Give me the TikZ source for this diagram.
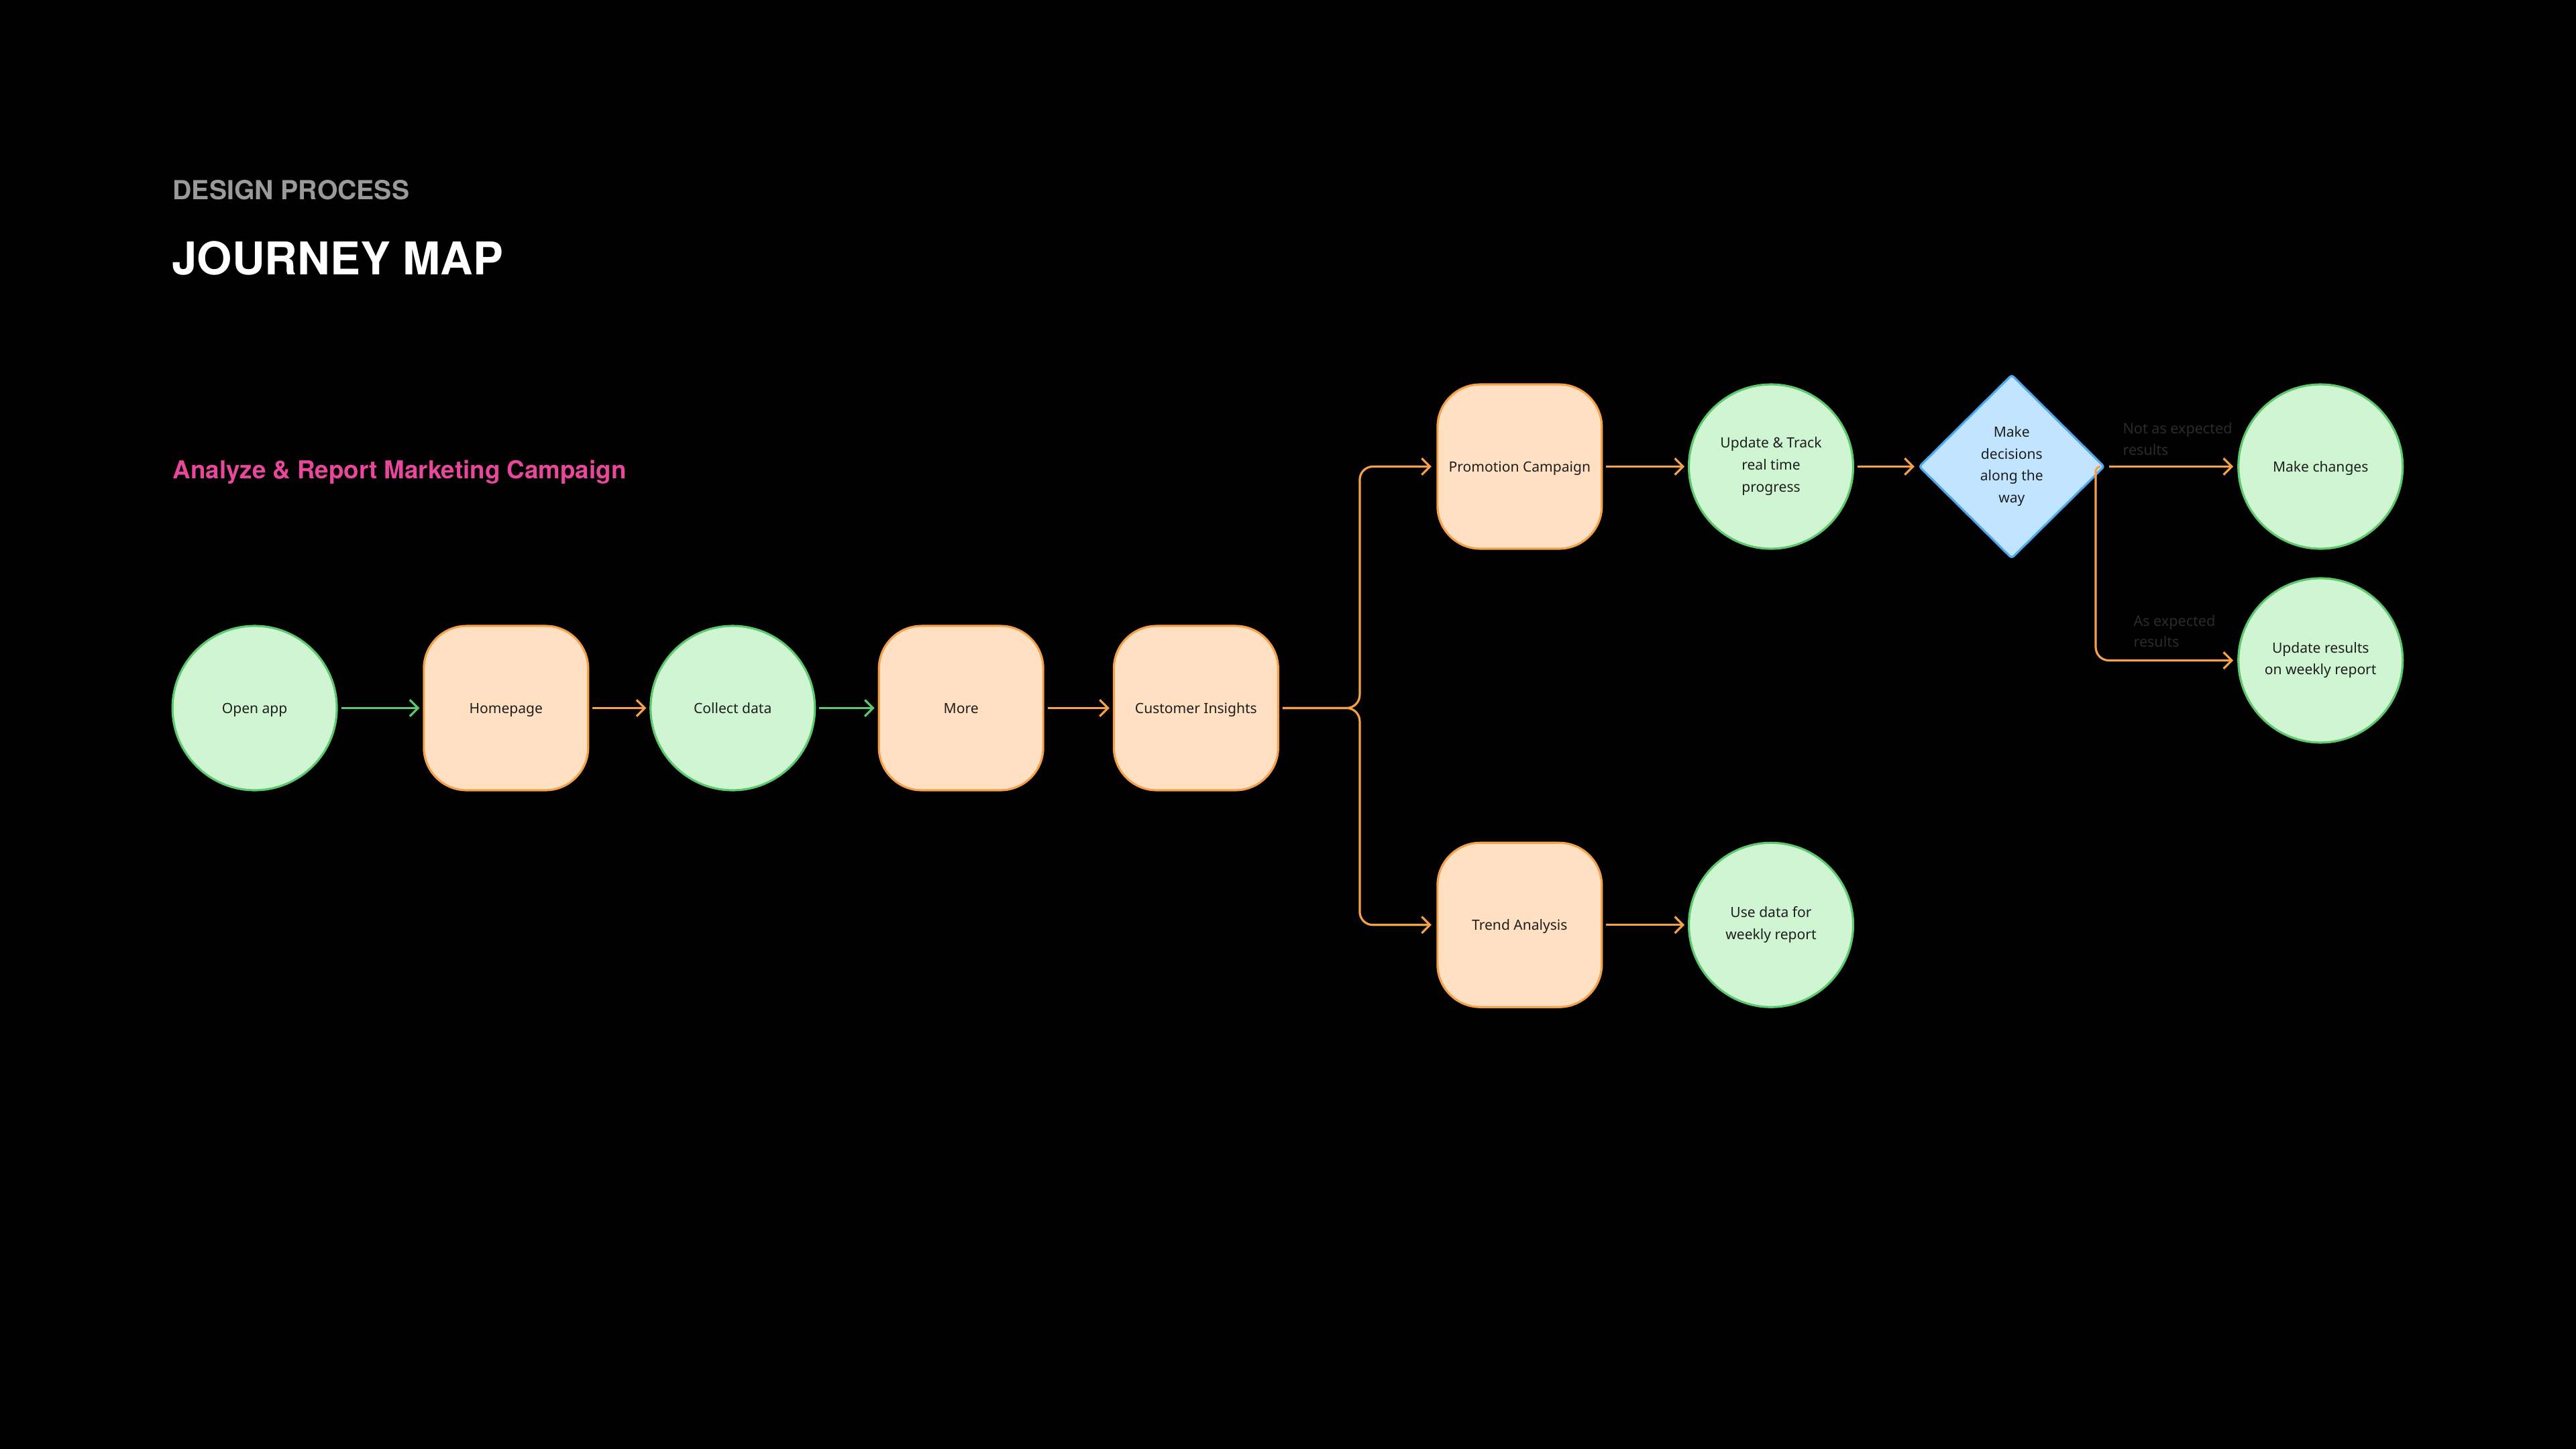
\documentclass[tikz,border=0pt]{standalone}
\usepackage{fontspec}
\setmainfont{Noto Sans}
\newfontfamily\titlefont{texgyreheros-bold.otf}
\usetikzlibrary{arrows.meta,shapes.geometric,calc}
\definecolor{gfill}{HTML}{CFF5D3}
\definecolor{gstroke}{HTML}{5DC96D}
\definecolor{ofill}{HTML}{FFE0C2}
\definecolor{ostroke}{HTML}{F4A14A}
\definecolor{bfill}{HTML}{C2E5FF}
\definecolor{bstroke}{HTML}{4DA9EF}
\definecolor{pinkc}{HTML}{E8479B}
\definecolor{grayc}{HTML}{9A9A9A}
\definecolor{txtc}{HTML}{1E1E1E}
\definecolor{lblc}{HTML}{2B2B2B}
\tikzset{
  nodefont/.style={font=\fontsize{8.6}{13.3}\selectfont, text=txtc, align=center,
    execute at begin node={\rule{0pt}{8.6pt}},
    execute at end node={\rule[-2.4pt]{0pt}{0pt}}},
  mline/.style={execute at begin node={\rule{0pt}{11.6pt}}},
  gnode/.style={circle, draw=gstroke, fill=gfill, line width=1.3pt, minimum size=100pt, inner sep=0pt, nodefont},
  onode/.style={rectangle, rounded corners=26pt, draw=ostroke, fill=ofill, line width=1.3pt, minimum width=100pt, minimum height=100pt, inner sep=0pt, nodefont},
  dnode/.style={diamond, aspect=1, draw=bstroke, fill=bfill, line width=1.3pt, minimum width=113pt, minimum height=112pt, inner sep=0pt, rounded corners=1.5pt, nodefont},
  tip/.style={-{Straight Barb[length=5pt,width=10pt]}},
  garrow/.style={tip, draw=gstroke, line width=1.3pt, shorten <=2pt, shorten >=2pt},
  oarrow/.style={tip, draw=ostroke, line width=1.3pt, shorten <=2pt, shorten >=2pt},
  lbl/.style={font=\fontsize{8.8}{13}\selectfont, text=lblc, align=left, anchor=base west, inner sep=0pt},
  title/.style={anchor=base west, inner sep=0pt},
}
\begin{document}
\begin{tikzpicture}[x=1pt,y=-1pt]
\fill[black] (0,0) rectangle (1568,882);
\useasboundingbox (0,0) rectangle (1568,882);

% titles
\node[title, text=grayc, font=\titlefont\fontsize{16}{16}\selectfont] (t1) at (105,121.3) {DESIGN PROCESS};
\node[title, text=white, font=\titlefont\fontsize{27.5}{27.5}\selectfont] (t2) at (104.5,167.4) {JOURNEY MAP};
\node[title, text=pinkc, font=\titlefont\fontsize{15}{15}\selectfont] (t3) at (105,291.5) {Analyze \& Report Marketing Campaign};

% main row
\node[gnode] (open) at (155,431) {Open app};
\node[onode] (home) at (308,431) {Homepage};
\node[gnode] (coll) at (446,431) {Collect data};
\node[onode] (more) at (585,431) {More};
\node[onode] (ci) at (728,431) {Customer Insights};

% branches
\node[onode] (promo) at (925,284) {Promotion Campaign};
\node[onode] (trend) at (925,563) {Trend Analysis};
\node[gnode, mline] (upd) at (1078,284) {Update \& Track\\real time\\progress};
\node[gnode, mline] (use) at (1078,563) {Use data for\\weekly report};
\node[dnode, mline] (dec) at (1224.5,284) {Make\\decisions\\along the\\way};
\node[gnode] (mc) at (1412.5,284) {Make changes};
\node[gnode, mline] (ur) at (1412.5,402) {Update results\\on weekly report};

% labels (base = last line)
\node[lbl] (l1) at (1292,277) {Not as expected\\results};
\node[lbl] (l2) at (1298.5,394) {As expected\\results};

% connectors
\draw[garrow] (open) -- (home);
\draw[oarrow] (home) -- (coll);
\draw[garrow] (coll) -- (more);
\draw[oarrow] (more) -- (ci);

\coordinate (br) at ($(ci.east)+(49,0)$);
\draw[oarrow, rounded corners=8pt, shorten >=3pt] (ci.east) -- (br) -- (br |- promo.west) -- (promo.west);
\draw[oarrow, rounded corners=8pt, shorten >=3pt] (ci.east) -- (br) -- (br |- trend.west) -- (trend.west);

\draw[oarrow] (promo) -- (upd);
\draw[oarrow] (trend) -- (use);
\draw[oarrow] (upd) -- (dec);
\draw[oarrow, shorten >=2.5pt] (dec.east) -- (mc);

\coordinate (hk) at ($(dec.east)+(-3,0)$);
\coordinate (vx) at ($(dec.east)+(-6,0)$);
\draw[tip, draw=ostroke, line width=1.3pt, shorten >=2.5pt] (hk) [rounded corners=3pt] -- (vx) [rounded corners=8pt] -- (vx |- ur.west) -- (ur.west);
\end{tikzpicture}
\end{document}
